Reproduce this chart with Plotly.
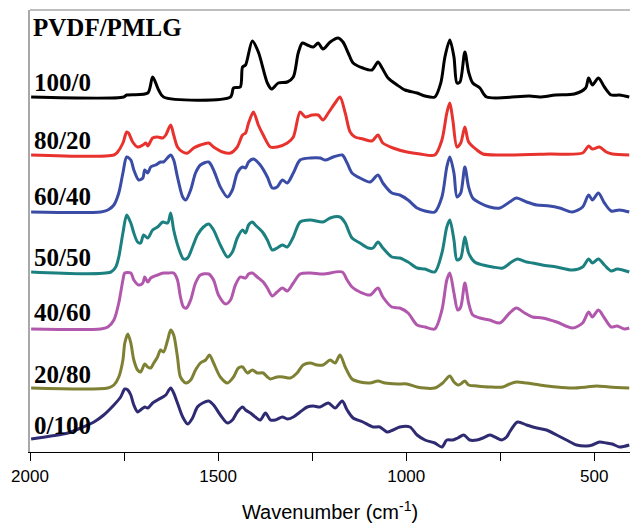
import plotly.graph_objects as go

# Sample labels (PVDF/PMLG ratio), top to bottom
labels = ["100/0", "80/20", "60/40", "50/50", "40/60", "20/80", "0/100"]
colors = ["#000000", "#e8322e", "#3a4ca6", "#1c8080", "#b158ac", "#7e8034", "#2f2b72"]
# vertical offsets of each spectrum (a.u.)
offsets = [355, 297, 240, 180, 123, 64, 5]
label_y = [370, 312, 256, 195, 140, 78, 27]

wn_100_0 = [1997,1751,1743,1687,1674,1658,1645,1467,1459,1441,1435,1427,1409,1393,1369,1358,1340,1316,1300,1287,1276,
            1263,1247,1234,1221,1202,1181,1168,1154,1141,1115,1091,1075,1064,1048,1024,1003,971,950,924,908,897,
            884,873,865,857,844,834,823,804,786,672,645,603,553,523,515,505,489,473,455,433,407]
ab_100_0 = [0,0,2,4,20,7,0,0,9,10,30,32,56,45,14,8,14,15,20,44,54,
            52,50,54,48,55,59,55,44,34,29,27,35,29,19,12,7,4,1,0,14,40,
            57,40,14,15,45,25,14,9,0,1,0,2,3,9,19,12,19,10,2,2,0]

wn_80_20 = [1997,1777,1767,1753,1743,1738,1727,1714,1700,1692,1687,1674,1661,1647,1639,1626,1618,1608,1594,1581,1565,
            1547,1525,1512,1488,1467,1449,1435,1427,1419,1406,1393,1380,1361,1343,1316,1300,1282,1268,1250,1234,1221,
            1207,1189,1176,1162,1149,1136,1115,1091,1075,1062,1035,998,963,924,905,892,884,876,865,855,844,
            834,812,796,751,619,531,515,505,486,468,452,407]
ab_80_20 = [0,0,3,12,23,22,13,8,10,12,9,17,18,17,20,30,20,8,3,2,7,
            10,12,8,3,2,8,20,22,32,43,30,20,8,8,12,18,43,38,40,40,35,
            42,52,58,42,23,18,16,14,20,12,7,3,1,0,15,42,52,35,8,12,28,
            13,5,1,0,1,2,9,6,8,3,1,0]

wn_60_40 = [1997,1812,1793,1777,1764,1753,1743,1732,1724,1711,1700,1695,1687,1679,1666,1653,1645,1626,1618,1608,1594,
            1586,1573,1560,1547,1525,1512,1494,1475,1462,1449,1435,1427,1419,1406,1388,1369,1356,1343,1329,1316,1300,
            1282,1255,1229,1215,1194,1170,1157,1144,1123,1096,1075,1062,1038,1017,995,971,950,924,905,892,884,
            873,865,855,844,834,823,804,778,751,725,707,680,653,619,592,558,531,515,505,489,473,455,433,407]
ab_60_40 = [0,0,2,7,19,39,55,52,42,32,34,42,39,45,47,50,50,57,52,35,15,
            12,22,39,47,50,42,25,15,22,39,45,44,50,53,47,35,24,25,32,29,39,
            52,54,54,52,55,57,49,39,34,30,37,29,19,17,12,4,1,0,15,45,55,
            39,15,19,45,25,14,9,5,4,10,14,10,7,6,4,0,5,17,12,19,9,1,2,0]

wn_50_50 = [1997,1785,1772,1764,1753,1743,1732,1724,1714,1706,1698,1687,1674,1661,1647,1634,1626,1618,1605,1592,1581,
            1568,1555,1539,1525,1512,1494,1475,1462,1449,1435,1427,1419,1409,1401,1382,1369,1356,1343,1329,1316,1300,
            1282,1255,1221,1202,1176,1162,1144,1123,1101,1088,1075,1062,1038,1017,995,971,950,924,905,892,884,
            873,865,855,844,834,818,796,770,743,720,704,680,664,638,600,558,531,515,505,489,473,455,439,407]
ab_50_50 = [0,0,5,15,39,57,49,39,30,29,37,34,42,45,50,49,59,42,24,13,14,
            25,37,45,48,42,27,15,20,34,42,39,47,50,47,40,32,22,24,27,25,35,
            50,52,50,54,55,49,34,29,24,24,30,24,15,14,10,4,3,0,19,45,52,
            32,12,14,35,19,10,7,5,4,10,13,10,9,7,5,2,5,13,9,13,7,1,3,0]

wn_40_60 = [1997,1812,1793,1777,1764,1753,1748,1732,1724,1711,1700,1695,1687,1679,1661,1645,1632,1618,1608,1600,1592,
            1584,1573,1560,1547,1525,1512,1499,1480,1467,1454,1441,1427,1419,1409,1396,1380,1369,1356,1343,1329,1316,
            1300,1282,1255,1221,1170,1157,1144,1123,1096,1075,1062,1038,1017,995,971,950,924,905,892,884,873,
            863,855,844,834,823,804,778,751,725,707,685,664,638,600,558,531,515,505,489,473,455,439,420,407]
ab_40_60 = [0,0,2,9,26,49,56,56,49,44,46,52,47,51,54,56,56,56,49,32,22,
            21,29,46,54,55,49,34,25,29,44,52,51,55,56,52,47,41,33,37,41,38,
            46,55,56,55,57,49,42,37,34,41,32,22,21,16,4,2,0,19,49,56,36,
            19,22,46,26,14,11,9,6,16,21,16,12,11,7,1,6,17,12,19,11,2,3,0,1]

wn_20_80 = [1997,1793,1777,1764,1753,1748,1740,1732,1724,1714,1706,1695,1687,1679,1671,1661,1653,1645,1634,1626,1618,
            1608,1600,1586,1573,1560,1547,1533,1523,1512,1494,1475,1459,1446,1435,1422,1409,1396,1380,1369,1361,1343,
            1327,1308,1290,1274,1255,1237,1221,1202,1189,1176,1162,1144,1123,1096,1075,1056,1024,998,971,924,903,
            884,873,863,855,844,834,812,778,743,725,707,680,645,600,558,520,494,460,407]
ab_20_80 = [0,0,3,11,28,45,54,45,28,18,16,24,21,20,25,31,38,36,48,58,53,
            31,11,5,8,18,25,28,33,25,11,5,11,20,21,15,18,15,15,11,9,11,
            11,10,15,23,25,23,23,28,25,33,21,9,6,5,7,5,4,4,1,0,5,
            12,6,3,4,7,3,2,1,1,4,6,5,3,1,0,1,2,1,0]

wn_0_100 = [1997,1944,1899,1865,1830,1804,1777,1759,1748,1740,1732,1724,1714,1706,1695,1687,1674,1661,1647,1639,1626,
            1618,1608,1594,1581,1568,1555,1541,1525,1512,1494,1475,1462,1449,1435,1427,1414,1401,1388,1374,1361,1348,
            1329,1316,1300,1282,1263,1247,1229,1207,1189,1170,1157,1141,1115,1088,1070,1051,1035,1017,990,971,950,
            924,905,892,876,863,847,831,812,796,778,764,746,733,725,704,680,653,627,600,574,547,
            520,505,486,468,452,433,407]
ab_0_100 = [8,11,14,19,25,32,42,50,58,57,52,42,35,37,40,39,44,47,50,52,59,
            54,44,30,23,29,40,44,46,42,32,24,27,35,40,37,34,30,27,34,27,27,
            30,28,30,35,40,41,40,44,39,46,37,29,25,20,20,15,17,20,20,12,7,
            4,0,7,7,9,12,7,7,9,12,10,7,10,15,25,22,19,17,12,7,2,
            1,2,5,4,3,0,2]

wavenumbers = [wn_100_0, wn_80_20, wn_60_40, wn_50_50, wn_40_60, wn_20_80, wn_0_100]
absorbances = [ab_100_0, ab_80_20, ab_60_40, ab_50_50, ab_40_60, ab_20_80, ab_0_100]

fig = go.Figure()
for lab, col, off, wn, ab in zip(labels, colors, offsets, wavenumbers, absorbances):
    fig.add_trace(go.Scatter(
        x=wn, y=[off + a for a in ab], mode="lines", name=lab,
        line=dict(color=col, width=3, shape="spline", smoothing=0.8),
        showlegend=False, hoverinfo="skip"))

serif = "Liberation Serif, Times New Roman, serif"
fig.add_annotation(x=1998, y=425, xref="x", yref="y", text="<b>PVDF/PMLG</b>",
                   showarrow=False, xanchor="left", yanchor="middle",
                   font=dict(family=serif, size=25, color="black"))
for lab, ly in zip(labels, label_y):
    fig.add_annotation(x=1996, y=ly, xref="x", yref="y", text="<b>%s</b>" % lab,
                       showarrow=False, xanchor="left", yanchor="middle",
                       font=dict(family=serif, size=25, color="black"))

# top frame line (gray)
fig.add_shape(type="line", xref="paper", yref="paper", x0=0, x1=1, y0=1, y1=1,
              line=dict(color="#a8a8a8", width=1.5))

fig.update_layout(
    width=630, height=523,
    margin=dict(l=30, r=0, t=10, b=71),
    paper_bgcolor="white", plot_bgcolor="white",
    xaxis=dict(range=[2000, 405], tick0=500, dtick=500,
               ticks="outside", ticklen=8, tickwidth=1.2, tickcolor="black",
               minor=dict(tick0=500, dtick=250, ticks="outside", ticklen=8, tickwidth=1.2,
                          tickcolor="black", showgrid=False),
               showline=True, linecolor="black", linewidth=1.2, showgrid=False, zeroline=False,
               tickfont=dict(family="Liberation Sans, Arial, sans-serif", size=17, color="black"),
               title=dict(text="Wavenumber (cm<sup>-1</sup>)", standoff=20,
                          font=dict(family="Liberation Sans, Arial, sans-serif", size=20, color="black"))),
    yaxis=dict(range=[0, 442], showticklabels=False, ticks="", showgrid=False, zeroline=False,
               showline=True, linecolor="#a8a8a8", linewidth=1.5),
)

fig.write_html("out.html")
